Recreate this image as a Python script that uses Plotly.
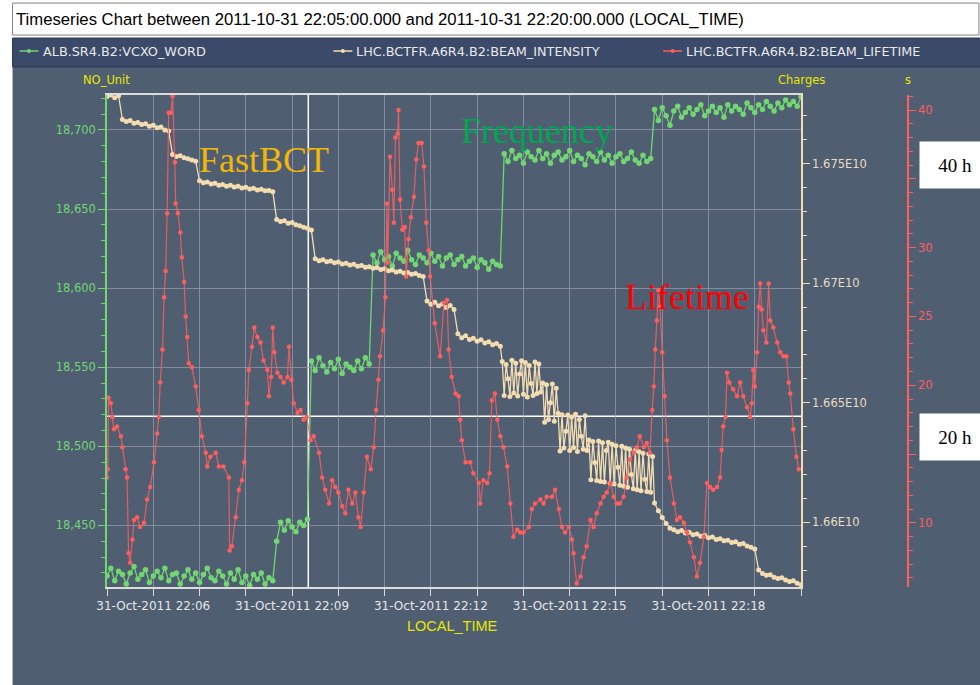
import numpy as np
import pandas as pd
import plotly.graph_objects as go

# ---------------- data ----------------
start_time = "2011-10-31 22:05:00"
end_time = "2011-10-31 22:20:00"
vcxo_step_s = 5  # VCXO word sampled every 5 s from 22:05:00

# ALB.SR4.B2:VCXO_WORD (NO_Unit)
vcxo_word = [
    18418, 18423, 18415, 18421, 18419, 18413, 18420, 18424, 18416, 18419,
    18422, 18414, 18418, 18421, 18417, 18423, 18415, 18419, 18420, 18413,
    18418, 18422, 18416, 18420, 18414, 18419, 18423, 18417, 18415, 18421,
    18418, 18413, 18420, 18416, 18422, 18414, 18418, 18412, 18419, 18416,
    18420, 18413, 18417, 18415,
    18440, 18452, 18447, 18453, 18449, 18446, 18452, 18450, 18454,
    18554, 18548, 18556, 18551, 18547, 18553, 18549, 18555, 18546, 18552,
    18550, 18548, 18554, 18549, 18556, 18552,
    18621, 18616, 18623, 18618, 18620, 18614, 18622, 18619, 18617, 18624,
    18618, 18615, 18621, 18619, 18616, 18622, 18617, 18620, 18614, 18619,
    18621, 18615, 18618, 18620, 18614, 18617, 18619, 18613, 18618, 18616,
    18612, 18617, 18615, 18614,
    18685, 18680, 18687, 18682, 18684, 18679, 18686, 18683, 18681, 18687,
    18682, 18685, 18679, 18684, 18686, 18681, 18683, 18687, 18680, 18684,
    18682, 18678, 18685, 18683, 18680, 18686, 18681, 18684, 18679, 18683,
    18685, 18680, 18682, 18686, 18681, 18679, 18684, 18680, 18682,
    18713, 18706, 18714, 18709, 18703, 18712, 18715, 18708, 18711, 18714,
    18710, 18713, 18716, 18709, 18712, 18715, 18711, 18714, 18708, 18716,
    18712, 18715, 18713, 18710, 18717, 18714, 18711, 18716, 18713, 18718,
    18715, 18712, 18717, 18714, 18719, 18716, 18718, 18715, 18721,
]

# LHC.BCTFR.A6R4.B2:BEAM_INTENSITY (Charges, in units of 1E10)
# sampling blocks: (first s, last s, step s) after 22:05:00
intensity_sampling = [(0, 510, 5), (512.5, 707.5, 2.5), (710, 900, 5)]
intensity_e10 = [
    1.67781, 1.67787, 1.67776, 1.67784,
    1.67684, 1.67676, 1.67680, 1.67669, 1.67672, 1.67664, 1.67667, 1.67656, 1.67660, 1.67650,
    1.67653, 1.67641, 1.67636,
    1.67538, 1.67530, 1.67533, 1.67524, 1.67520, 1.67515, 1.67510,
    1.67428, 1.67420, 1.67423, 1.67415, 1.67418, 1.67410, 1.67413, 1.67405, 1.67409, 1.67402,
    1.67405, 1.67398, 1.67401, 1.67394, 1.67397, 1.67390, 1.67393, 1.67386, 1.67388, 1.67382,
    1.67266, 1.67258, 1.67261, 1.67251, 1.67254, 1.67244, 1.67240, 1.67234, 1.67230, 1.67222,
    1.67102, 1.67094, 1.67098, 1.67090, 1.67093, 1.67085, 1.67088, 1.67080, 1.67083, 1.67076,
    1.67079, 1.67071, 1.67074, 1.67066, 1.67069, 1.67062, 1.67065, 1.67057, 1.67060, 1.67052,
    1.67055, 1.67047, 1.67050, 1.67042, 1.67045, 1.67037, 1.67040, 1.67032, 1.67028,
    1.66925, 1.66912, 1.66920, 1.66905, 1.66913, 1.66898, 1.66906, 1.66890,
    1.66788, 1.66772, 1.66780, 1.66764, 1.66770, 1.66757, 1.66763, 1.66750, 1.66755, 1.66742,
    1.66748, 1.66736,
    # 2.5 s block (oscillating read-out)
    1.66672, 1.66530, 1.66660, 1.66600, 1.66526, 1.66678, 1.66540, 1.66665, 1.66528, 1.66620,
    1.66675, 1.66535, 1.66668, 1.66524, 1.66655, 1.66580, 1.66530, 1.66670, 1.66538, 1.66662,
    1.66545,
    1.66582, 1.66418, 1.66575, 1.66430, 1.66500, 1.66578, 1.66422, 1.66560,
    1.66456, 1.66298, 1.66450, 1.66310, 1.66380, 1.66448, 1.66300, 1.66440, 1.66312, 1.66452,
    1.66296, 1.66430, 1.66360, 1.66305, 1.66445, 1.66300,
    1.66344, 1.66178, 1.66338, 1.66250, 1.66175, 1.66340, 1.66170, 1.66332, 1.66168, 1.66300,
    1.66335, 1.66163, 1.66326, 1.66160, 1.66320, 1.66230, 1.66155, 1.66318, 1.66150, 1.66310,
    1.66146, 1.66305, 1.66200, 1.66140, 1.66300, 1.66136, 1.66295, 1.66132, 1.66288, 1.66180,
    1.66128, 1.66285, 1.66125, 1.66275,
    # back to 5 s
    1.66080, 1.66048, 1.66020, 1.65995, 1.65975,
    1.65968, 1.65960, 1.65965, 1.65955, 1.65958, 1.65948, 1.65951, 1.65941, 1.65945, 1.65935,
    1.65938, 1.65928, 1.65931, 1.65922, 1.65925, 1.65915, 1.65918, 1.65908, 1.65911, 1.65900,
    1.65895, 1.65888,
    1.65800, 1.65785, 1.65778, 1.65780, 1.65770, 1.65765, 1.65768, 1.65758, 1.65752, 1.65755,
    1.65745, 1.65738,
]

# LHC.BCTFR.A6R4.B2:BEAM_LIFETIME (s): sample time (s after 22:05:00) and value
lifetime_sec = [
    0, 1, 2, 5, 7, 9, 13, 18, 20, 24, 26, 28, 30, 33, 35, 39, 43, 48, 52, 56,
    61, 65, 67, 69, 72, 74, 76, 78, 80, 83, 85, 88, 89, 92, 95, 97, 100, 102, 104, 106,
    110, 115, 119, 123, 128, 130, 134, 141, 145, 151, 158, 159, 162, 167, 171, 175, 178, 182, 184, 188,
    191, 195, 199, 203, 208, 210, 213, 215, 217, 221, 225, 229, 234, 236, 239, 242, 247, 251, 255, 259,
    264, 268, 275, 279, 283, 288, 292, 296, 300, 305, 309, 313, 318, 322, 326, 329, 333, 337, 342, 346,
    349, 352, 354, 358, 361, 363, 364, 367, 370, 372, 374, 377, 378, 380, 383, 386, 388, 391, 394, 398,
    401, 404, 408, 411, 414, 417, 419, 425, 432, 437, 441, 443, 447, 452, 456, 458, 460, 465, 471, 475,
    482, 484, 488, 493, 496, 499, 503, 506, 510, 514, 519, 523, 527, 532, 536, 540, 547, 551, 555, 562,
    566, 570, 577, 581, 586, 590, 594, 599, 603, 605, 609, 614, 618, 622, 627, 631, 635, 640, 644, 648,
    653, 657, 661, 665, 670, 674, 678, 683, 687, 691, 696, 700, 704, 707, 709, 711, 713, 715, 717, 720,
    723, 726, 730, 735, 739, 743, 748, 752, 756, 761, 765, 769, 774, 778, 782, 786, 791, 795, 797, 799,
    802, 804, 807, 812, 817, 821, 825, 830, 834, 836, 838, 840, 843, 845, 847, 849, 851, 855, 858, 860,
    864, 869, 873, 877, 881, 884, 886, 890, 894, 897,
]
lifetime_val = [
    13.3, 13.9, 19.1, 18.7, 17.7, 16.8, 17.0, 16.3, 15.5, 13.9, 13.3, 7.8, 7.1, 8.8, 10.2, 10.4, 9.7, 10.0, 11.7, 12.6,
    14.4, 16.5, 17.7, 20.2, 22.6, 26.4, 28.3, 32.5, 39.8, 39.8, 41.0, 36.2, 33.2, 32.5, 31.1, 29.3, 27.5, 25.0, 23.5, 21.6,
    21.3, 19.9, 18.2, 16.3, 15.1, 14.1, 14.8, 15.1, 14.1, 14.1, 13.3, 8.0, 8.3, 10.4, 12.4, 13.1, 14.4, 18.7, 21.1, 22.8,
    24.2, 23.5, 23.1, 21.8, 21.1, 19.2, 20.6, 24.2, 22.4, 20.9, 20.6, 20.2, 20.6, 22.8, 20.4, 18.7, 18.0, 18.2, 17.5, 17.7,
    16.0, 16.3, 15.1, 13.3, 12.4, 11.4, 13.1, 12.6, 12.2, 11.2, 10.7, 12.4, 11.4, 12.2, 10.4, 9.7, 12.2, 14.8, 13.9, 15.5,
    18.2, 20.4, 22.1, 24.0, 26.4, 33.2, 28.9, 36.6, 34.2, 31.8, 38.0, 38.3, 40.0, 33.5, 31.3, 31.5, 27.9, 30.6, 32.2, 33.7,
    36.4, 37.6, 37.6, 35.9, 31.8, 29.8, 27.9, 24.5, 22.1, 26.0, 26.2, 22.6, 20.6, 19.4, 19.2, 17.5, 16.0, 14.4, 14.4, 13.6,
    12.9, 11.4, 13.1, 12.9, 13.6, 18.9, 19.4, 17.5, 16.3, 15.5, 14.1, 11.4, 9.0, 9.5, 9.3, 9.3, 9.7, 11.0, 11.4, 11.7,
    11.4, 11.9, 11.9, 12.4, 11.0, 9.7, 9.3, 9.7, 8.8, 7.8, 5.6, 6.1, 7.5, 8.3, 10.2, 9.7, 10.7, 11.4, 11.9, 12.2,
    12.9, 11.9, 11.4, 11.4, 11.9, 13.3, 14.6, 15.1, 15.5, 16.3, 15.5, 15.8, 15.1, 18.2, 19.9, 22.6, 24.7, 26.9, 25.7, 22.4,
    19.2, 16.0, 13.3, 11.4, 10.2, 10.4, 10.0, 9.3, 8.6, 7.5, 6.1, 7.1, 9.0, 12.9, 12.6, 12.4, 12.6, 13.3, 15.3, 17.0,
    17.7, 20.9, 20.2, 19.7, 19.2, 20.2, 19.2, 18.4, 17.7, 18.7, 21.1, 19.9, 22.4, 25.7, 27.4, 25.5, 24.0, 23.1, 27.4, 24.7,
    24.2, 23.1, 22.4, 22.1, 22.1, 20.2, 19.4, 16.8, 14.8, 13.9,
]

# tick labels of the Charges axis
charges_ticks_e10 = [1.66, 1.665, 1.67, 1.675]
charges_ticktext = ["1.66E10", "1.665E10", "1.67E10", "1.675E10"]

# chart cursor (crosshair) position
cursor_time = "2011-10-31 22:09:21"
cursor_level = 18519

series_names = ["ALB.SR4.B2:VCXO_WORD", "LHC.BCTFR.A6R4.B2:BEAM_INTENSITY",
                "LHC.BCTFR.A6R4.B2:BEAM_LIFETIME"]
title_text = ("Timeseries Chart between 2011-10-31 22:05:00.000 and "
              "2011-10-31 22:20:00.000 (LOCAL_TIME)")

# ---------------- styling / geometry ----------------
W, H = 980, 685
ML, MR, MT, MB = 106.5, 72, 95, 97.7
PW = W - ML - MR
PH = H - MT - MB


def px(x):
    return (x - ML) / PW


def py(y):
    return (H - MB - y) / PH


XDOM = px(801)

PANEL = "#505e72"
LEGBG = "#3a4a68"
GRID = "rgba(150,155,175,0.75)"
GREEN = "#72d672"
BEIGE = "#f2dcb0"
RED = "#ff5e5e"
YELLOW = "#e8e800"
TICKFONT = "DejaVu Sans"

t0 = pd.Timestamp(start_time)
x_green = t0 + pd.to_timedelta(np.arange(len(vcxo_word)) * vcxo_step_s, unit="s")
beige_sec = np.concatenate([np.arange(a, b + s / 2, s) for a, b, s in intensity_sampling])
x_beige = t0 + pd.to_timedelta(beige_sec, unit="s")
x_red = t0 + pd.to_timedelta(np.array(lifetime_sec), unit="s")
intensity = [v * 1e10 for v in intensity_e10]

fig = go.Figure()
fig.add_trace(go.Scatter(
    x=x_green, y=vcxo_word, yaxis="y", mode="lines+markers",
    line=dict(color=GREEN, width=1.3), marker=dict(color=GREEN, size=5.5),
    name=series_names[0], hoverinfo="skip"))
fig.add_trace(go.Scatter(
    x=x_beige, y=intensity, yaxis="y2", mode="lines+markers",
    line=dict(color=BEIGE, width=1.3), marker=dict(color=BEIGE, size=5),
    name=series_names[1], hoverinfo="skip"))
fig.add_trace(go.Scatter(
    x=x_red, y=lifetime_val, yaxis="y3", mode="lines+markers",
    line=dict(color="rgba(255,94,94,0.85)", width=1.2), marker=dict(color=RED, size=4.5),
    name=series_names[2], hoverinfo="skip"))

shapes = [
    dict(type="rect", xref="paper", yref="paper", x0=px(12), x1=px(981), y0=py(686), y1=py(38),
         fillcolor=PANEL, line=dict(width=0), layer="below"),
    dict(type="rect", xref="paper", yref="paper", x0=px(12), x1=px(981), y0=py(67), y1=py(38),
         fillcolor=LEGBG, line=dict(color="#2c3a55", width=1), layer="below"),
    dict(type="rect", xref="paper", yref="paper", x0=px(12), x1=px(979), y0=py(35), y1=py(3),
         fillcolor="white", line=dict(color="#808080", width=1), layer="below"),
    # crosshair
    dict(type="line", xref="x", yref="paper", x0=cursor_time, x1=cursor_time, y0=0, y1=1,
         line=dict(color="white", width=1.5), layer="between"),
    dict(type="line", xref="paper", yref="y", x0=0, x1=XDOM, y0=cursor_level, y1=cursor_level,
         line=dict(color="white", width=1.5), layer="between"),
]

annotations = [
    dict(x=px(13), y=py(19), xref="paper", yref="paper", xanchor="left", yanchor="middle",
         text=title_text, showarrow=False,
         font=dict(family="Liberation Sans, Arial, sans-serif", size=16.7, color="black")),
]

# legend (manual)
leg_items = [(19, series_names[0], GREEN), (333, series_names[1], BEIGE), (663, series_names[2], RED)]
for lx, name, col in leg_items:
    shapes.append(dict(type="line", xref="paper", yref="paper", x0=px(lx), x1=px(lx + 19),
                       y0=py(51), y1=py(51), line=dict(color=col, width=1.5), layer="above"))
    shapes.append(dict(type="circle", xref="paper", yref="paper", x0=px(lx + 7.5), x1=px(lx + 11.5),
                       y0=py(53), y1=py(49), fillcolor=col, line=dict(color=col, width=0), layer="above"))
    annotations.append(dict(x=px(lx + 21), y=py(51), xref="paper", yref="paper", xanchor="left",
                            yanchor="middle", text=name, showarrow=False,
                            font=dict(family=TICKFONT, size=12.8, color="#e8e8e8")))

# axis titles
for ax_x, txt in [(106, "NO_Unit"), (801, "Charges"), (908, "s")]:
    annotations.append(dict(x=px(ax_x), y=py(80), xref="paper", yref="paper", xanchor="center",
                            yanchor="middle", text=txt, showarrow=False,
                            font=dict(family=TICKFONT, size=11.5, color=YELLOW)))
annotations.append(dict(x=px(452), y=py(626), xref="paper", yref="paper", xanchor="center",
                        yanchor="middle", text="LOCAL_TIME", showarrow=False,
                        font=dict(family="Liberation Sans, Arial, sans-serif", size=14.5, color=YELLOW)))

# text labels on the chart
serif = "Liberation Serif, Times New Roman, serif"
for tx, ty, txt, col in [(264, 160, "FastBCT", "#f2b705"), (537, 131, "Frequency", "#00a651"),
                         (687, 297, "Lifetime", "#ff0000")]:
    annotations.append(dict(x=px(tx), y=py(ty), xref="paper", yref="paper", xanchor="center",
                            yanchor="middle", text=txt, showarrow=False,
                            font=dict(family=serif, size=36, color=col)))
for by, txt in [(165, "40 h"), (437, "20 h")]:
    annotations.append(dict(x=px(955), y=py(by), xref="paper", yref="paper", xanchor="center",
                            yanchor="middle", text=txt, showarrow=False, bgcolor="white",
                            width=70, height=46, borderpad=0,
                            font=dict(family=serif, size=19, color="black")))

fig.update_layout(
    width=W, height=H,
    margin=dict(l=ML, r=MR, t=MT, b=MB, autoexpand=False),
    paper_bgcolor="white", plot_bgcolor=PANEL,
    showlegend=False,
    shapes=shapes, annotations=annotations,
    xaxis=dict(
        type="date", domain=[0, XDOM], range=[start_time, end_time],
        tickmode="linear", tick0="2011-10-31 22:06:00", dtick=180000,
        tickformat="%d-%b-%Y %H:%M", ticks="outside", ticklen=7, tickcolor="#d8d8d8",
        tickfont=dict(family=TICKFONT, size=12, color="#e6e6e6"),
        showgrid=True, gridcolor=GRID, gridwidth=1,
        minor=dict(dtick=60000, tick0="2011-10-31 22:06:00", ticks="outside", ticklen=7,
                   tickcolor="#d8d8d8", showgrid=True, gridcolor=GRID, gridwidth=1),
        showline=True, linecolor="#dcdcdc", linewidth=1.5, mirror=True, zeroline=False,
    ),
    yaxis=dict(
        range=[18411.1, 18722.1], tickmode="linear", tick0=18450, dtick=50, tickformat=",d",
        ticks="outside", ticklen=7, tickcolor=GREEN,
        tickfont=dict(family=TICKFONT, size=11.5, color=GREEN),
        showgrid=True, gridcolor=GRID, gridwidth=1,
        minor=dict(dtick=10, tick0=18450, ticks="outside", ticklen=4, tickcolor=GREEN, showgrid=False),
        showline=True, linecolor=GREEN, linewidth=1.5, zeroline=False,
    ),
    yaxis2=dict(
        overlaying="y", side="right", anchor="x",
        range=[1.65729e10, 1.67787e10], tickmode="array",
        tickvals=[v * 1e10 for v in charges_ticks_e10], ticktext=charges_ticktext,
        ticks="outside", ticklen=7, tickcolor=BEIGE,
        tickfont=dict(family=TICKFONT, size=11.5, color="#e9dcc0"),
        minor=dict(tickmode="linear", tick0=1.66e10, dtick=1e7, ticks="outside", ticklen=4,
                   tickcolor=BEIGE, showgrid=False),
        showgrid=False, showline=True, linecolor=BEIGE, linewidth=1.5, zeroline=False,
    ),
    yaxis3=dict(
        overlaying="y", side="right", anchor="free", position=1,
        range=[5.34, 41.09], tickmode="linear", tick0=0, dtick=5,
        ticks="outside", ticklen=7, tickcolor=RED,
        tickfont=dict(family=TICKFONT, size=11.5, color=RED),
        minor=dict(dtick=1, tick0=0, ticks="outside", ticklen=4, tickcolor=RED, showgrid=False),
        showgrid=False, showline=True, linecolor=RED, linewidth=1.5, zeroline=False,
    ),
)

fig.write_html("out.html", config={"displayModeBar": False},
               post_script="document.body.style.margin='0px';")
